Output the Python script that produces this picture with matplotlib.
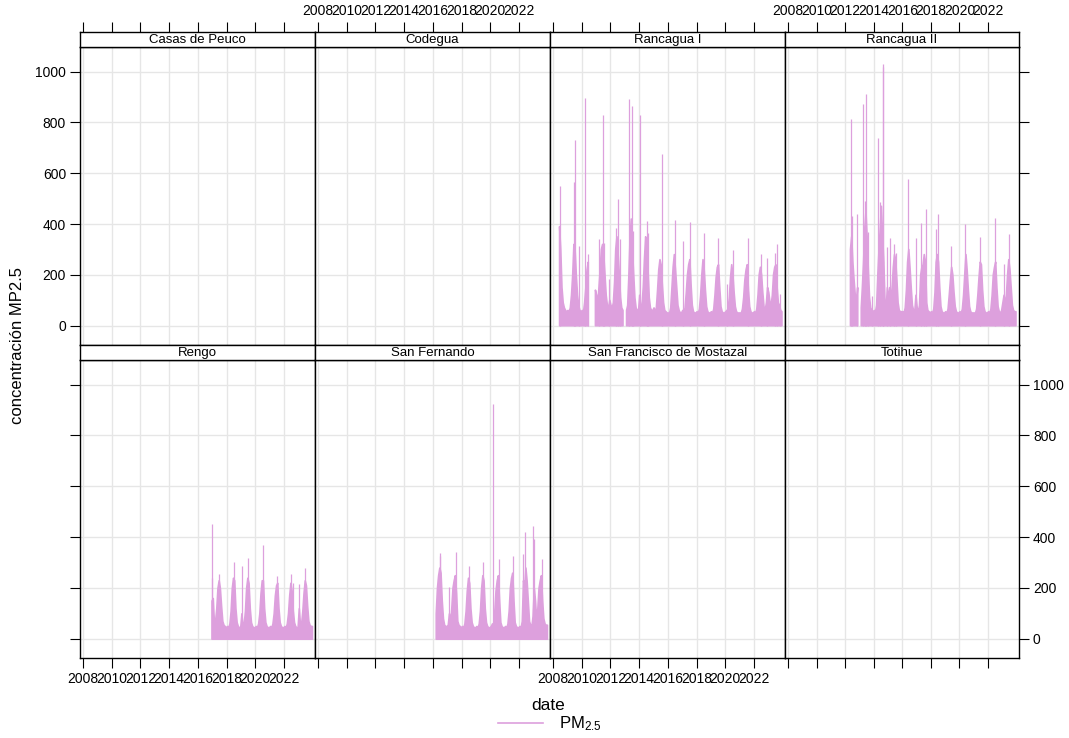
import numpy as np
import pandas as pd
import matplotlib
matplotlib.use('Agg')
import matplotlib.pyplot as plt
from matplotlib.lines import Line2D

plt.rcParams['font.family'] = ['Liberation Sans', 'DejaVu Sans']
plt.rcParams['mathtext.fontset'] = 'custom'
plt.rcParams['mathtext.rm'] = 'Liberation Sans'
plt.rcParams['mathtext.it'] = 'Liberation Sans:italic'

nan = np.nan
PLUM = '#DDA0DD'

stations = ['Casas de Peuco', 'Codegua', 'Rancagua I', 'Rancagua II',
            'Rengo', 'San Fernando', 'San Francisco de Mostazal', 'Totihue']

# dense part of the hourly series, read as a monthly level (nan = no data)
rancagua1_start = '2008-06-01'
rancagua1 = [390, 300, 150, 90, 70, 60, 55,
             60, 55, 70, 120, 200, 320, 300, 200, 120, 80, 60, 55,
             60, 55, 90, 150, 220, 250, nan, nan, nan, nan, nan, 140,
             120, 90, 150, 220, 300, 320, 280, 200, 120, 80, 70, 100,
             80, 70, 90, 170, 300, 350, 280, 200, 110, 70, 60, nan,
             nan, 60, 80, 200, 350, 420, 300, 200, 110, 70, 60, 55,
             120, 60, 80, 150, 260, 350, 330, 220, 110, 70, 60, 60,
             70, 55, 70, 140, 220, 260, 240, 160, 90, 60, 55, 50,
             50, 50, 70, 150, 230, 280, 220, 150, 80, 60, 50, 50,
             60, 50, 70, 130, 200, 240, 260, 160, 80, 55, 50, 50,
             55, 50, 65, 120, 200, 260, 220, 140, 75, 55, 50, 50,
             55, 50, 65, 120, 190, 230, 240, 150, 75, 55, 50, 50,
             55, 60, 65, 110, 190, 240, 200, 130, 75, 55, 50, 50,
             50, 50, 65, 110, 180, 220, 240, 140, 75, 55, 50, 50,
             55, 50, 65, 120, 200, 230, 200, 130, 75, 60, 90, 150,
             130, 90, 80, 120, 200, 230, 240, 150, 90, 80, 60, 55]
rancagua1_peak_dates = ['2008-07-01', '2009-06-20', '2009-07-25', '2009-10-15', '2010-03-25',
                        '2010-06-20', '2011-03-25', '2011-06-20', '2011-07-25', '2011-12-05',
                        '2012-05-15', '2012-07-20', '2012-09-01', '2013-04-20', '2013-06-20',
                        '2013-07-20', '2014-01-25', '2014-07-10', '2014-08-15', '2015-07-30',
                        '2016-06-20', '2017-01-15', '2017-07-20', '2018-06-28', '2019-07-12',
                        '2020-02-15', '2020-07-05', '2021-07-25', '2022-06-28', '2022-11-28',
                        '2023-06-20', '2023-07-30', '2023-10-15']
rancagua1_peaks = [551, 565, 732, 314, 898, 284, 340, 830, 327, 183, 385, 500, 342, 891, 865,
                   372, 830, 412, 366, 677, 416, 333, 408, 363, 344, 166, 297, 344, 281, 265,
                   288, 320, 124]

rancagua2_start = '2012-05-01'
rancagua2 = [300, 350, 250, 180, 120, 90, 150, nan,
             nan, 70, 150, 250, 380, 450, 350, 220, 110, 70, 60, 55,
             60, 55, 80, 200, 300, 380, 470, 350, 250, 100, 70, 150,
             100, 150, 100, 150, 230, 280, 260, 180, 90, 60, 55, 55,
             55, 50, 70, 140, 250, 300, 230, 150, 80, 60, 55, 120,
             70, 55, 80, 200, 230, 240, 280, 250, 90, 60, 55, 50,
             55, 50, 65, 130, 250, 280, 250, 150, 75, 55, 50, 50,
             55, 50, 65, 120, 180, 230, 200, 130, 75, 55, 50, 50,
             55, 50, 65, 120, 200, 280, 220, 140, 75, 55, 50, 50,
             50, 50, 65, 120, 190, 250, 240, 140, 75, 55, 50, 50,
             55, 50, 65, 120, 200, 230, 250, 150, 75, 55, 50, 60,
             90, 120, 80, 120, 200, 260, 220, 150, 80, 60, 55, 55]
rancagua2_peak_dates = ['2012-06-01', '2012-06-15', '2012-11-05', '2013-03-25', '2013-05-25',
                        '2013-06-28', '2013-08-10', '2013-11-25', '2014-04-10', '2014-06-05',
                        '2014-08-28', '2014-09-06', '2014-12-01', '2015-02-28', '2015-06-10',
                        '2015-07-30', '2016-06-01', '2016-12-25', '2017-05-01', '2017-06-28',
                        '2017-08-18', '2018-05-15', '2018-06-28', '2019-06-10', '2020-06-01',
                        '2021-06-20', '2022-07-05', '2023-02-05', '2023-06-28']
rancagua2_peaks = [813, 432, 439, 872, 491, 911, 367, 118, 738, 485, 1029, 1020, 308, 347, 321,
                   288, 577, 347, 406, 265, 461, 380, 439, 315, 400, 351, 423, 242, 360]

rengo_start = '2016-12-01'
rengo = [150,
         160, 60, 70, 120, 200, 230, 200, 130, 70, 55, 50, 45,
         50, 45, 60, 110, 200, 240, 230, 120, 65, 50, 45, 45,
         100, 45, 60, 110, 200, 240, 220, 120, 65, 50, 45, 45,
         50, 45, 60, 100, 180, 230, 230, 120, 65, 50, 45, 45,
         50, 45, 60, 100, 170, 210, 220, 120, 65, 50, 45, 45,
         50, 45, 60, 100, 170, 220, 190, 110, 65, 50, 45, 45,
         120, 50, 60, 110, 180, 230, 210, 130, 70, 55, 50, 50]
rengo_peak_dates = ['2016-12-20', '2017-01-08', '2017-06-28', '2018-07-12', '2019-01-25',
                    '2019-07-05', '2020-07-20', '2021-07-20', '2022-06-28', '2022-08-10',
                    '2023-01-25', '2023-06-10']
rengo_peaks = [240, 452, 253, 301, 286, 318, 367, 246, 253, 220, 214, 277]

sanfernando_start = '2016-03-01'
sanfernando = [100, 200, 250, 280, 260, 150, 80, 55, 50, 50,
               55, 100, 60, 120, 200, 230, 250, 180, 70, 55, 50, 45,
               50, 45, 60, 110, 190, 240, 220, 120, 65, 50, 45, 45,
               50, 45, 60, 110, 200, 250, 230, 120, 65, 50, 45, 45,
               50, 60, 60, 110, 190, 230, 250, 150, 65, 50, 45, 45,
               50, 45, 60, 110, 200, 240, 260, 150, 65, 50, 45, 45,
               50, 45, 70, 230, 200, 280, 230, 150, 70, 55, 50, 90,
               200, 150, 80, 120, 200, 230, 250, 150, 80, 60, 55, 55]
sanfernando_peak_dates = ['2016-07-05', '2016-07-12', '2017-02-05', '2017-08-05', '2018-06-28',
                          '2019-06-20', '2020-03-01', '2020-07-30', '2021-07-30', '2022-04-10',
                          '2022-06-10', '2022-12-25', '2023-02-01', '2023-08-01']
sanfernando_peaks = [338, 325, 204, 341, 288, 301, 925, 312, 325, 332, 419, 443, 391, 312]

series = {
    'Rancagua I': (rancagua1_start, rancagua1, rancagua1_peak_dates, rancagua1_peaks),
    'Rancagua II': (rancagua2_start, rancagua2, rancagua2_peak_dates, rancagua2_peaks),
    'Rengo': (rengo_start, rengo, rengo_peak_dates, rengo_peaks),
    'San Fernando': (sanfernando_start, sanfernando, sanfernando_peak_dates, sanfernando_peaks),
}

year_ticks = list(range(2008, 2023, 2))
tick_dates = pd.to_datetime([f'{y}-01-01' for y in year_ticks])
xlim = (pd.Timestamp('2007-10-15'), pd.Timestamp('2024-03-02'))

W, H = 1069, 738
fig = plt.figure(figsize=(W / 100, H / 100), dpi=100)
col_x = [80, 315, 550, 785, 1019]
rows = [(32, 47, 345), (345, 360, 658)]  # strip top, panel top, panel bottom


def box(x0, x1, y0, y1):
    return [x0 / W, 1 - y1 / H, (x1 - x0) / W, (y1 - y0) / H]


for i, name in enumerate(stations):
    r, c = divmod(i, 4)
    ax = fig.add_axes(box(col_x[c], col_x[c + 1], rows[r][1], rows[r][2]))
    sx = fig.add_axes(box(col_x[c], col_x[c + 1], rows[r][0], rows[r][1]))

    if name in series:
        start, vals, pdates, peaks = series[name]
        dates = pd.date_range(start, periods=len(vals), freq='MS') + pd.Timedelta(days=14)
        ax.fill_between(dates, 0, np.array(vals, dtype=float),
                        color=PLUM, lw=1.2, edgecolor=PLUM, zorder=2)
        ax.vlines(pd.to_datetime(pdates), 0, peaks, color=PLUM, lw=0.9, zorder=2)

    ax.set_xlim(xlim)
    ax.set_ylim(-76, 1097)
    ax.set_xticks(tick_dates)
    ax.set_xticklabels([str(y) for y in year_ticks])
    ax.set_yticks(range(0, 1001, 200))
    ax.grid(color='#E6E6E6', lw=1)
    ax.set_axisbelow(True)
    ax.tick_params(direction='out', length=7, width=0.8, labelsize=10, pad=3,
                   left=(c == 0), right=(c == 3), bottom=(r == 1), top=False,
                   labelleft=(c == 0 and r == 0), labelright=(c == 3 and r == 1),
                   labelbottom=(r == 1 and c in (0, 2)), labeltop=False)
    for sp in ax.spines.values():
        sp.set_linewidth(1)

    sx.set_xlim(xlim)
    sx.set_yticks([])
    sx.set_xticks(tick_dates)
    sx.set_xticklabels([str(y) for y in year_ticks])
    sx.tick_params(direction='out', length=7, width=0.8, labelsize=10, pad=3,
                   top=(r == 0), bottom=False, labeltop=(r == 0 and c in (1, 3)),
                   labelbottom=False)
    for sp in sx.spines.values():
        sp.set_linewidth(1)
    sx.text(0.5, 0.45, name, ha='center', va='center', fontsize=9.5, transform=sx.transAxes)

fig.text(548 / W, 1 - 705 / H, 'date', ha='center', va='center', fontsize=12.5)
fig.text(18 / W, 1 - 345 / H, 'concentración MP2.5', rotation=90,
         ha='center', va='center', fontsize=12)
fig.legend(handles=[Line2D([0], [0], color=PLUM, lw=1.2)], labels=[r'PM$_{2.5}$'],
           loc='center', bbox_to_anchor=(550 / W, 1 - 724 / H), frameon=False,
           fontsize=12, handlelength=2.7, handletextpad=1.0)

fig.savefig('out.png', dpi=100)
